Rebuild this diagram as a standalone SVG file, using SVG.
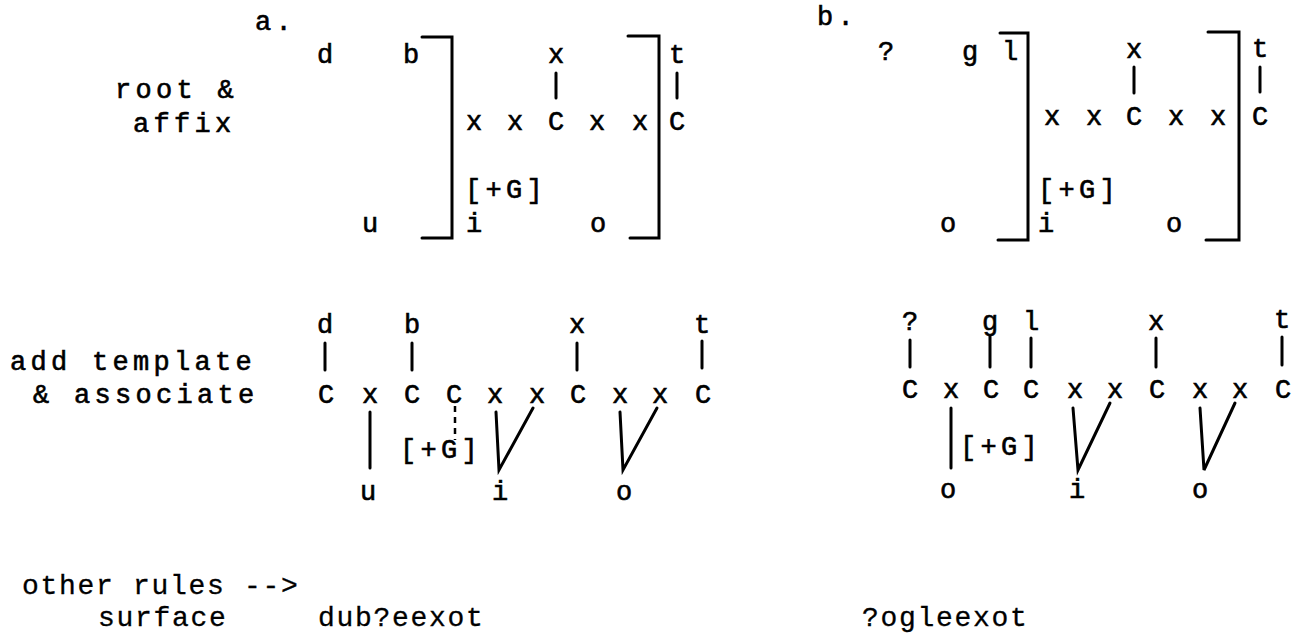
<svg xmlns="http://www.w3.org/2000/svg" width="1306" height="643" viewBox="0 0 1306 643">
<style>
text{font-family:"Liberation Mono","DejaVu Sans Mono",monospace;fill:#000;stroke:#000;stroke-width:0.6px}
.c{font-size:27px;text-anchor:middle}
.l{font-size:27px;letter-spacing:4.3px}
.s{font-size:28px;letter-spacing:1.7px;stroke-width:0.3px}
.ln{stroke:#000;stroke-width:3;fill:none;stroke-linecap:round;stroke-linejoin:miter}
.dash{stroke:#000;stroke-width:2.5;fill:none;stroke-dasharray:6 5}
</style>
<rect width="1306" height="643" fill="#fff"/>
<g id="labels">
<text class="l" x="115" y="98">root &amp;</text>
<text class="l" x="133" y="132">affix</text>
<text class="l" x="10" y="370">add template</text>
<text class="l" x="33" y="403">&amp; associate</text>
<text class="l" x="255" y="30">a.</text>
<text class="l" x="817" y="25">b.</text>
<text class="s" x="22" y="594">other rules --&gt;</text>
<text class="s" x="98" y="626">surface</text>
</g>
<g id="a-root">
<text class="c" x="325" y="63">d</text>
<text class="c" x="411" y="63">b</text>
<text class="c" x="556" y="63">x</text>
<text class="c" x="677" y="63">t</text>
<text class="c" x="474" y="130">x</text>
<text class="c" x="515" y="130">x</text>
<text class="c" x="556" y="130">C</text>
<text class="c" x="597" y="130">x</text>
<text class="c" x="640" y="130">x</text>
<text class="c" x="677" y="130">C</text>
<text class="l" x="465" y="198">[+G]</text>
<text class="c" x="370" y="232">u</text>
<text class="c" x="474" y="232">i</text>
<text class="c" x="598" y="232">o</text>
</g>
<g id="b-root">
<text class="c" x="886" y="60">?</text>
<text class="c" x="970" y="60">g</text>
<text class="c" x="1010" y="60">l</text>
<text class="c" x="1134" y="58">x</text>
<text class="c" x="1260" y="57">t</text>
<text class="c" x="1052" y="125">x</text>
<text class="c" x="1094" y="125">x</text>
<text class="c" x="1134" y="125">C</text>
<text class="c" x="1176" y="125">x</text>
<text class="c" x="1218" y="125">x</text>
<text class="c" x="1260" y="125">C</text>
<text class="l" x="1038" y="198">[+G]</text>
<text class="c" x="948" y="232">o</text>
<text class="c" x="1046" y="232">i</text>
<text class="c" x="1174" y="232">o</text>
</g>
<g id="a-template">
<text class="c" x="325" y="333">d</text>
<text class="c" x="412" y="333">b</text>
<text class="c" x="577" y="333">x</text>
<text class="c" x="702" y="333">t</text>
<text class="c" x="326" y="403">C</text>
<text class="c" x="370" y="403">x</text>
<text class="c" x="412" y="403">C</text>
<text class="c" x="454" y="403">C</text>
<text class="c" x="495" y="403">x</text>
<text class="c" x="537" y="403">x</text>
<text class="c" x="578" y="403">C</text>
<text class="c" x="620" y="403">x</text>
<text class="c" x="660" y="403">x</text>
<text class="c" x="703" y="403">C</text>
<text class="l" x="400" y="458">[+G]</text>
<text class="c" x="368" y="500">u</text>
<text class="c" x="500" y="500">i</text>
<text class="c" x="624" y="500">o</text>
</g>
<g id="b-template">
<text class="c" x="910" y="330">?</text>
<text class="c" x="990" y="330">g</text>
<text class="c" x="1031" y="330">l</text>
<text class="c" x="1156" y="330">x</text>
<text class="c" x="1282" y="328">t</text>
<text class="c" x="910" y="398">C</text>
<text class="c" x="951" y="398">x</text>
<text class="c" x="991" y="398">C</text>
<text class="c" x="1031" y="398">C</text>
<text class="c" x="1075" y="398">x</text>
<text class="c" x="1115" y="398">x</text>
<text class="c" x="1157" y="398">C</text>
<text class="c" x="1200" y="398">x</text>
<text class="c" x="1240" y="398">x</text>
<text class="c" x="1283" y="398">C</text>
<text class="l" x="960" y="455">[+G]</text>
<text class="c" x="948" y="498">o</text>
<text class="c" x="1077" y="498">i</text>
<text class="c" x="1200" y="498">o</text>
</g>
<g id="surface">
<text class="s" x="318" y="626">dub?eexot</text>
<text class="s" x="862" y="626">?ogleexot</text>
</g>
<g id="connectors">
<path class="ln" d="M422,37 H452 V238 H422"/>
<path class="ln" d="M628,36 H659 V238 H630"/>
<path class="ln" d="M556,73 V98"/>
<path class="ln" d="M677,73 V98"/>
<path class="ln" d="M1000,33 H1028 V240 H998"/>
<path class="ln" d="M1208,32 H1239 V240 H1206"/>
<path class="ln" d="M1134,67 V93"/>
<path class="ln" d="M1260,67 V92"/>
<path class="ln" d="M325,343 V370"/>
<path class="ln" d="M412,343 V370"/>
<path class="ln" d="M577,343 V370"/>
<path class="ln" d="M702,341 V368"/>
<path class="ln" d="M370,412 V468"/>
<path class="dash" d="M455,406 V440"/>
<path class="ln" d="M496,412 L499,470 L533,408"/>
<path class="ln" d="M620,412 L623,470 L657,408"/>
<path class="ln" d="M910,340 V367"/>
<path class="ln" d="M990,336 V367"/>
<path class="ln" d="M1031,338 V367"/>
<path class="ln" d="M1156,338 V367"/>
<path class="ln" d="M1282,337 V365"/>
<path class="ln" d="M951,408 V468"/>
<path class="ln" d="M1073,408 L1078,470 L1110,403"/>
<path class="ln" d="M1200,408 L1204,470 L1235,403"/>
</g>
</svg>
